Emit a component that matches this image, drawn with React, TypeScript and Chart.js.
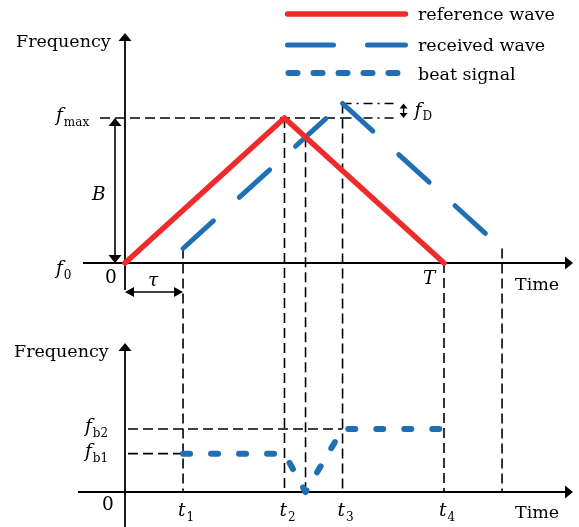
import { useEffect, useRef } from "react";
import { Chart, registerables } from "chart.js";

Chart.register(...registerables);

// Sweep parameters (time in units where T = 10, frequency where B = 10)
const PERIOD = 10;
const BANDWIDTH = 10;
const DELAY = 1.82;

// Transmitted (reference) triangular sweep
const referenceTimes = [0, 5, 10];
const referenceFreqs = [0, 10, 0];

// Echo: delayed by tau and shifted up by fD
const receivedRiseTimes = [1.82, 6.82];
const receivedRiseFreqs = [1, 11];
const receivedFallTimes = [6.82, 11.82];
const receivedFallFreqs = [11, 1];

// Beat frequency |f_ref - f_rx|
const beatTimes = [1.82, 5, 5.66, 6.82, 10];
const beatFreqs = [2.8, 2.8, 0, 4.6, 4.6];
const beatLevelNames = ["b1", "b2"];
const beatLevels = [2.8, 4.6];

// Instants marked on the lower time axis
const markerTimes = [1.82, 5, 6.82, 10];
const markerSubs = ["1", "2", "3", "4"];

const seriesNames = ["reference wave", "received wave", "beat signal"];

const RED = "#ED2B2B";
const BLUE = "#1F6FB5";
const INK = "#000000";
const SERIF = '"DejaVu Serif", serif';
const FONT_SIZE = 17.5;
const MATH_SIZE = 18.5;
const SUB_SIZE = 12;

const pts = (xs: number[], ys: number[]) => xs.map((x, i) => ({ x, y: ys[i] }));

function interp(xs: number[], ys: number[], t: number) {
  for (let i = 0; i < xs.length - 1; i++) {
    if (t >= xs[i] && t <= xs[i + 1]) {
      const k = (t - xs[i]) / (xs[i + 1] - xs[i]);
      return ys[i] + k * (ys[i + 1] - ys[i]);
    }
  }
  return ys[ys.length - 1];
}

function line(ctx: CanvasRenderingContext2D, x1: number, y1: number, x2: number, y2: number, dash: number[] = []) {
  ctx.setLineDash(dash);
  ctx.beginPath();
  ctx.moveTo(x1, y1);
  ctx.lineTo(x2, y2);
  ctx.stroke();
  ctx.setLineDash([]);
}

function head(ctx: CanvasRenderingContext2D, tx: number, ty: number, dx: number, dy: number, len: number, half: number) {
  ctx.beginPath();
  ctx.moveTo(tx, ty);
  ctx.lineTo(tx - dx * len - dy * half, ty - dy * len + dx * half);
  ctx.lineTo(tx - dx * len + dy * half, ty - dy * len - dx * half);
  ctx.closePath();
  ctx.fill();
}

function mathLabel(
  ctx: CanvasRenderingContext2D,
  x: number,
  y: number,
  main: string,
  sub = "",
  subDrop = 5
) {
  ctx.font = `italic ${MATH_SIZE}px ${SERIF}`;
  ctx.fillText(main, x, y);
  if (sub) {
    const w = ctx.measureText(main).width;
    ctx.font = `${SUB_SIZE}px ${SERIF}`;
    ctx.fillText(sub, x + w + 1, y + subDrop);
  }
}

const diagramPlugin = {
  id: "sweepDiagram",
  beforeDatasetsDraw(chart: any) {
    const ctx: CanvasRenderingContext2D = chart.ctx;
    const sx = chart.scales.x;
    const st = chart.scales.yTop;
    const sb = chart.scales.yBot;
    const X = (v: number) => sx.getPixelForValue(v);
    const YT = (v: number) => st.getPixelForValue(v);
    const YB = (v: number) => sb.getPixelForValue(v);

    const x0 = X(0);
    const yT0 = YT(0);
    const yB0 = YB(0);
    const peakT = receivedRiseTimes[1];
    const peakF = receivedRiseFreqs[1];
    const rightEnd = X(peakT) + 55;

    ctx.save();
    ctx.strokeStyle = INK;
    ctx.fillStyle = INK;
    ctx.lineCap = "butt";

    // dashed guides
    ctx.lineWidth = 1.6;
    const dash = [10, 5];
    line(ctx, x0 - 25, YT(BANDWIDTH), X(peakT), YT(BANDWIDTH), dash);
    line(ctx, X(peakT), YT(BANDWIDTH), rightEnd, YT(BANDWIDTH), [9, 5, 2, 5]);
    line(ctx, X(peakT), YT(peakF), rightEnd, YT(peakF), [9, 5, 2, 5]);

    const dipT = beatTimes[2];
    const verticals: [number, number][] = [
      [receivedRiseTimes[0], receivedRiseFreqs[0]],
      [referenceTimes[1], referenceFreqs[1]],
      [dipT, interp(referenceTimes, referenceFreqs, dipT)],
      [peakT, peakF],
      [referenceTimes[2], referenceFreqs[2]],
      [receivedFallTimes[1], receivedFallFreqs[1]],
    ];
    verticals.forEach(([t, f]) => line(ctx, X(t), YT(f), X(t), yB0, dash));

    line(ctx, x0 + 3, YB(beatLevels[1]), X(beatTimes[3]), YB(beatLevels[1]), dash);
    line(ctx, x0 + 3, YB(beatLevels[0]), X(beatTimes[0]), YB(beatLevels[0]), dash);

    // axes
    ctx.lineWidth = 1.8;
    const topTip = 33;
    const botTip = 343;
    const xTip = 573;
    line(ctx, x0, yT0 + 27, x0, topTip + 4);
    head(ctx, x0, topTip, 0, -1, 8, 6.5);
    line(ctx, x0 - 42, yT0, xTip - 4, yT0);
    head(ctx, xTip, yT0, 1, 0, 8, 6.5);

    line(ctx, x0, chart.height, x0, botTip + 4);
    head(ctx, x0, botTip, 0, -1, 8, 6.5);
    line(ctx, x0 - 47, yB0, xTip - 4, yB0);
    head(ctx, xTip, yB0, 1, 0, 8, 6.5);

    // B span
    ctx.lineWidth = 1.6;
    const bx = x0 - 10;
    line(ctx, bx, YT(BANDWIDTH) + 4, bx, yT0 - 4);
    head(ctx, bx, YT(BANDWIDTH), 0, -1, 8, 6.5);
    head(ctx, bx, yT0, 0, 1, 8, 6.5);

    // tau span
    const ty = yT0 + 29;
    line(ctx, x0 + 4, ty, X(DELAY) - 4, ty);
    head(ctx, x0, ty, -1, 0, 9, 5);
    head(ctx, X(DELAY), ty, 1, 0, 9, 5);

    // fD span
    const fx = rightEnd + 6;
    ctx.lineWidth = 1.4;
    line(ctx, fx, YT(peakF) + 3, fx, YT(BANDWIDTH) - 3);
    head(ctx, fx, YT(peakF), 0, -1, 5, 4);
    head(ctx, fx, YT(BANDWIDTH), 0, 1, 5, 4);

    ctx.restore();
  },
  afterDatasetsDraw(chart: any) {
    const ctx: CanvasRenderingContext2D = chart.ctx;
    const sx = chart.scales.x;
    const st = chart.scales.yTop;
    const sb = chart.scales.yBot;
    const X = (v: number) => sx.getPixelForValue(v);
    const YT = (v: number) => st.getPixelForValue(v);
    const YB = (v: number) => sb.getPixelForValue(v);
    const x0 = X(0);
    const yT0 = YT(0);
    const yB0 = YB(0);
    const peakT = receivedRiseTimes[1];
    const peakF = receivedRiseFreqs[1];

    ctx.save();
    ctx.fillStyle = INK;
    ctx.textBaseline = "alphabetic";
    ctx.textAlign = "left";

    // axis titles
    ctx.font = `${FONT_SIZE}px ${SERIF}`;
    ctx.fillText("Frequency", 16, 47);
    ctx.fillText("Frequency", 14, 357);
    ctx.fillText("Time", 515, yT0 + 27);
    ctx.fillText("Time", 515, yB0 + 26);
    ctx.font = `${MATH_SIZE}px ${SERIF}`;
    ctx.fillText("0", x0 - 20, yT0 + 20);
    ctx.fillText("0", x0 - 23, yB0 + 18);

    // top-panel symbols
    mathLabel(ctx, 56, YT(BANDWIDTH) + 3, "f", "max", 5);
    mathLabel(ctx, 92, YT(BANDWIDTH / 2) + 9, "B");
    mathLabel(ctx, 56, yT0 + 11, "f", "0", 5);
    mathLabel(ctx, (x0 + X(DELAY)) / 2 - 6, yT0 + 23, "τ");
    mathLabel(ctx, X(PERIOD) - 21, yT0 + 21, "T");
    mathLabel(ctx, X(peakT) + 72, YT(peakF) + 12, "f", "D", 4);

    // bottom-panel symbols
    beatLevels.forEach((lv, i) => mathLabel(ctx, 85, YB(lv) + 3, "f", beatLevelNames[i], 5));
    markerTimes.forEach((t, i) => mathLabel(ctx, X(t) - 5, yB0 + 24, "t", markerSubs[i], 5));

    // legend
    const lx1 = 287.5;
    const lx2 = 405.5;
    const rows = [20, 51, 80];
    const keyY = [14, 45, 73];
    ctx.lineCap = "round";
    ctx.strokeStyle = RED;
    ctx.lineWidth = 5.5;
    line(ctx, lx1, keyY[0], lx2, keyY[0]);
    ctx.strokeStyle = BLUE;
    ctx.lineWidth = 5;
    line(ctx, lx1, keyY[1], lx2, keyY[1], [46, 34]);
    ctx.lineWidth = 6;
    line(ctx, lx1 + 1, keyY[2], lx2, keyY[2], [9, 16]);
    ctx.font = `${FONT_SIZE}px ${SERIF}`;
    seriesNames.forEach((name, i) => ctx.fillText(name, 418, rows[i]));

    ctx.restore();
  },
};

export default function App() {
  const canvasRef = useRef<HTMLCanvasElement | null>(null);

  useEffect(() => {
    const canvas = canvasRef.current;
    if (!canvas) return;
    const common = {
      showLine: true,
      pointRadius: 0,
      tension: 0,
      fill: false,
      borderCapStyle: "round" as const,
      borderJoinStyle: "round" as const,
    };
    const chart = new Chart(canvas, {
      type: "scatter",
      data: {
        datasets: [
          {
            ...common,
            label: seriesNames[0],
            data: pts(referenceTimes, referenceFreqs),
            borderColor: RED,
            borderWidth: 5.5,
            yAxisID: "yTop",
          },
          {
            ...common,
            label: seriesNames[1],
            data: pts(receivedRiseTimes, receivedRiseFreqs),
            borderColor: BLUE,
            borderWidth: 5,
            borderDash: [41, 35],
            yAxisID: "yTop",
          },
          {
            ...common,
            label: seriesNames[1],
            data: pts(receivedFallTimes, receivedFallFreqs),
            borderColor: BLUE,
            borderWidth: 5,
            borderDash: [41, 35],
            yAxisID: "yTop",
          },
          {
            ...common,
            label: seriesNames[2],
            data: pts(beatTimes, beatFreqs),
            borderColor: BLUE,
            borderWidth: 6,
            borderDash: [7, 21],
            yAxisID: "yBot",
          },
        ],
      },
      options: {
        animation: false,
        responsive: false,
        devicePixelRatio: 1,
        layout: { padding: 0 },
        events: [],
        plugins: { legend: { display: false }, tooltip: { enabled: false } },
        scales: {
          x: { type: "linear", min: -3.918, max: 14.232, display: false },
          yTop: { type: "linear", position: "left", min: -18.207, max: 18.138, display: false },
          yBot: { type: "linear", position: "left", min: -2.555, max: 35.91, display: false },
        },
      },
      plugins: [diagramPlugin],
    });
    return () => chart.destroy();
  }, []);

  return (
    <div style={{ position: "absolute", left: 0, top: 0, width: 579, height: 527, background: "#fff" }}>
      <canvas ref={canvasRef} width={579} height={527} style={{ display: "block" }} />
    </div>
  );
}
